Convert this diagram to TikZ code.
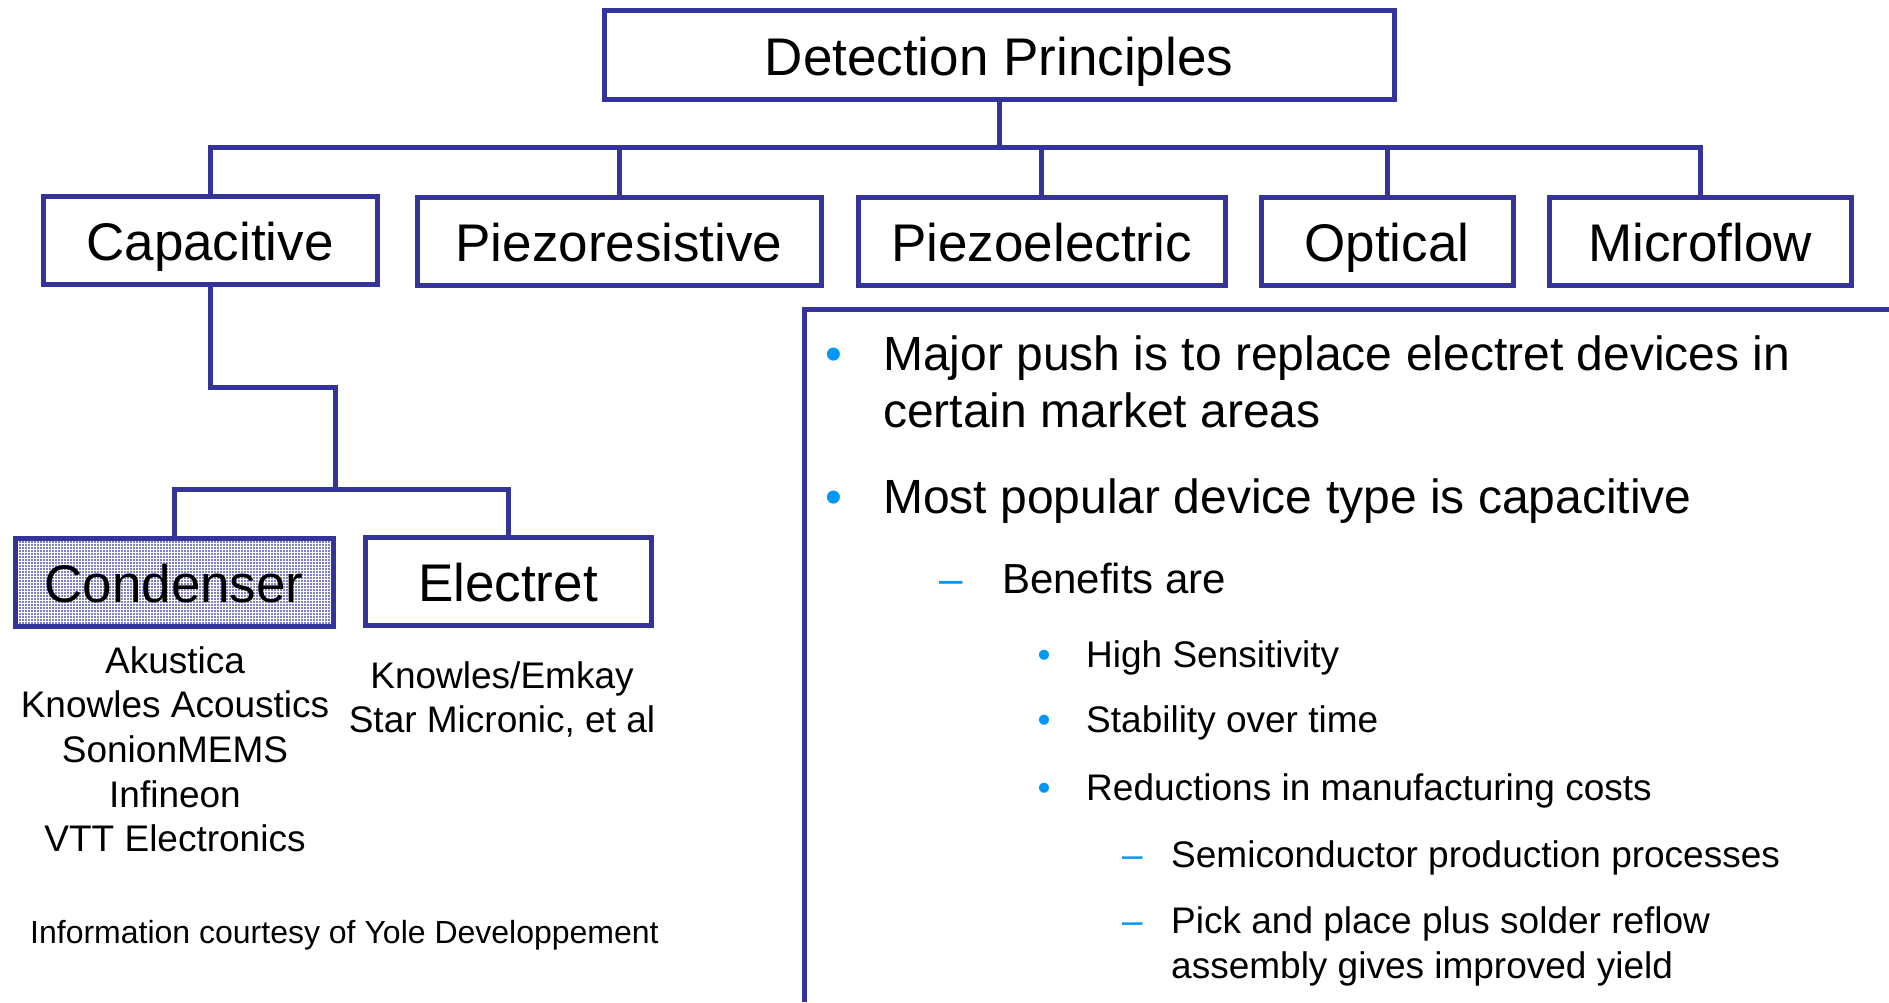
\documentclass[tikz,border=0pt]{standalone}
\usepackage{fontspec}
\setmainfont{Liberation Sans}
\usetikzlibrary{patterns}
\definecolor{navy}{RGB}{51,51,153}
\definecolor{bul}{RGB}{0,150,250}
\definecolor{cfill}{RGB}{126,128,196}
\begin{document}
\begin{tikzpicture}[x=1pt,y=-1pt,
  box/.style={draw=navy, line width=5pt, inner sep=0pt, minimum height=88pt,
    text height=41pt, text depth=0pt, font=\fontsize{53}{64}\selectfont},
  conn/.style={draw=navy, line width=5pt},
  lst/.style={anchor=base, inner sep=0pt, font=\fontsize{37}{44}\selectfont},
  lvla/.style={anchor=base west, inner sep=0pt, font=\fontsize{48}{57}\selectfont},
  lvlb/.style={anchor=base west, inner sep=0pt, font=\fontsize{42}{50}\selectfont},
  lvlc/.style={anchor=base west, inner sep=0pt, font=\fontsize{37}{44}\selectfont},
  bula/.style={anchor=base, inner sep=0pt, text=bul, font=\fontsize{48}{57}\selectfont},
  bulb/.style={anchor=base, inner sep=0pt, text=bul, font=\fontsize{42}{50}\selectfont},
  bulc/.style={anchor=base, inner sep=0pt, text=bul, font=\fontsize{37}{44}\selectfont}]
\useasboundingbox (0,0) rectangle (1889,1002);

% boxes
\node[box, minimum width=790pt, minimum height=89pt] (det) at (999,54.5) {Detection Principles};
\node[box, minimum width=334pt] (cap) at (210,240) {Capacitive};
\node[box, minimum width=404pt] (pr) at (619,241) {Piezoresistive};
\node[box, minimum width=367pt] (pe) at (1041.5,241) {Piezoelectric};
\node[box, minimum width=252pt] (opt) at (1387,241) {Optical};
\node[box, minimum width=302pt] (mf) at (1700,241) {Microflow};
\node[box, minimum width=318pt, preaction={fill=cfill},
  preaction={pattern=grid, pattern color=white}] (cond) at (174,582) {Condenser};
\node[box, minimum width=286pt] (elec) at (508,581) {Electret};

% connectors
\coordinate (bus) at (999,147);
\draw[conn] (det.south) -- (bus);
\draw[conn] (cap.north) |- (bus) -| (mf.north);
\draw[conn] (pr.north) -- (pr.north |- bus);
\draw[conn] (pe.north) -- (pe.north |- bus);
\draw[conn] (opt.north) -- (opt.north |- bus);
\coordinate (k1) at (210,387);
\coordinate (k2) at (335,387);
\coordinate (k3) at (335,489);
\draw[conn] (cap.south) -- (k1) -- (k2) -- (k3);
\draw[conn] (cond.north) |- (k3) -| (elec.north);

% lists
\node[lst] (l1) at (175,673) {Akustica};
\node[lst] (l2) at (175,717) {Knowles Acoustics};
\node[lst] (l3) at (175,762) {SonionMEMS};
\node[lst] (l4) at (175,807) {Infineon};
\node[lst] (l5) at (175,851) {VTT Electronics};
\node[lst] (e1) at (502,688) {Knowles/Emkay};
\node[lst] (e2) at (502,732) {Star Micronic, et al};
\node[anchor=base west, inner sep=0pt, font=\fontsize{32}{38}\selectfont] (info) at (30,943) {Information courtesy of Yole Developpement};

% right panel
\coordinate (p1) at (804,1002);
\coordinate (p2) at (804,309);
\coordinate (p3) at (1889,309);
\draw[conn] (p1) -- (p2) -- (p3);

\node[bula] (b1) at (834,370) {•};
\node[lvla] (t1) at (883,370) {Major push is to replace electret devices in};
\node[lvla] (t1b) at (883,427) {certain market areas};
\node[bula] (b2) at (834,513) {•};
\node[lvla] (t2) at (883,513) {Most popular device type is capacitive};
\node[bulb] (d1) at (951,593) {–};
\node[lvlb] (t3) at (1002,593) {Benefits are};
\node[bulc] (c1) at (1044,667) {•};
\node[lvlc] (t4) at (1086,667) {High Sensitivity};
\node[bulc] (c2) at (1044,732) {•};
\node[lvlc] (t5) at (1086,732) {Stability over time};
\node[bulc] (c3) at (1044,800) {•};
\node[lvlc] (t6) at (1086,800) {Reductions in manufacturing costs};
\node[bulc] (d2) at (1132.5,867) {–};
\node[lvlc] (t7) at (1171,867) {Semiconductor production processes};
\node[bulc] (d3) at (1132.5,933) {–};
\node[lvlc] (t8) at (1171,933) {Pick and place plus solder reflow};
\node[lvlc] (t8b) at (1171,978) {assembly gives improved yield};
\end{tikzpicture}
\end{document}
